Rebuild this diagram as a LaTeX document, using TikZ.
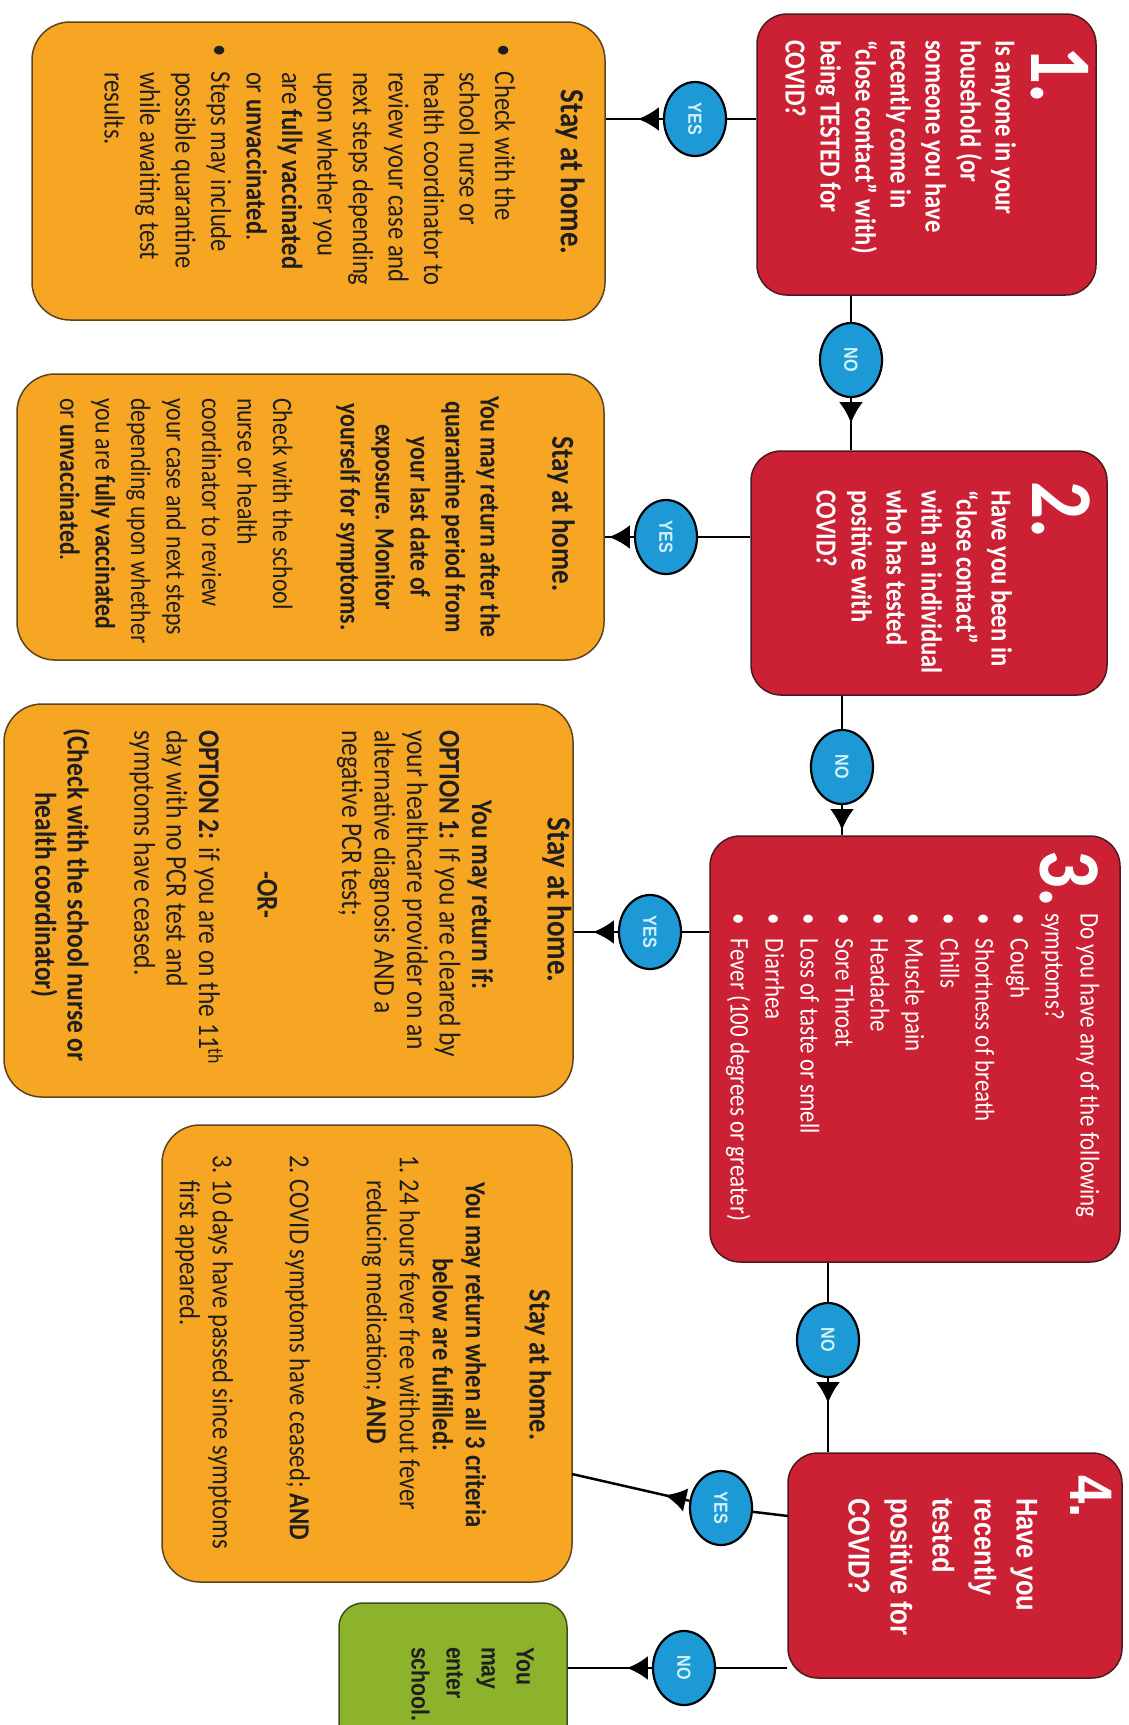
\documentclass[tikz,border=0pt]{standalone}
\usepackage{fontspec}
\usepackage{graphicx}
\usetikzlibrary{shapes.geometric, arrows.meta, decorations.markings}
\setmainfont{Carlito}
\newfontfamily\calfont[FakeStretch=0.85]{Carlito}
\newfontfamily\arifont[FakeStretch=0.85]{Liberation Sans}
\definecolor{cred}{HTML}{CC2135}
\definecolor{credb}{HTML}{4D1A1F}
\definecolor{corange}{HTML}{F6A623}
\definecolor{corb}{HTML}{5C4420}
\definecolor{cgreen}{HTML}{8DB22C}
\definecolor{cgrb}{HTML}{3F4F1A}
\definecolor{cblue}{HTML}{1D9AD6}
\definecolor{ctext}{HTML}{1E1E1E}
\definecolor{cyes}{HTML}{D4F1FC}
\newcommand\blt{\makebox[28pt][l]{•}}
\newcommand\ind{\hspace*{28pt}}
\tikzset{
  box/.style={draw, line width=1.5pt, inner sep=0pt},
  redbox/.style={box, fill=cred, draw=credb, rounded corners=30pt},
  orbox/.style={box, fill=corange, draw=corb, rounded corners=38pt},
  grbox/.style={box, fill=cgreen, draw=cgrb, rounded corners=24pt},
  ans/.style={ellipse, draw=black, line width=2.2pt, fill=cblue, minimum width=62pt, minimum height=74pt, inner sep=0pt, text=cyes, font=\arifont\bfseries\fontsize{19}{19}\selectfont},
  conn/.style={line width=2.5pt, black},
  toarrow/.style={conn, decoration={markings, mark=at position 25pt with {\arrow{Latex[length=21pt,width=24pt]}}}, postaction=decorate},
  rt/.style={rotate=-90, inner sep=0pt, outer sep=0pt},
  wtxt/.style={rt, text=white},
  dtxt/.style={rt, text=ctext},
}
\begin{document}
\begin{tikzpicture}[x=1pt, y=-1pt]
\useasboundingbox (0,0) rectangle (1129,1725);
\fill[white] (0,0) rectangle (1129,1725);
\clip (0,0) rectangle (1129,1725);

% boxes
\node[redbox, minimum width=339pt, minimum height=281pt] (r1) at (926.5,154.5) {};
\node[redbox, minimum width=356pt, minimum height=244pt] (r2) at (929,573) {};
\node[redbox, minimum width=410pt, minimum height=426pt] (r3) at (915,1049) {};
\node[redbox, minimum width=334pt, minimum height=225pt] (r4) at (955,1565.5) {};
\node[orbox, minimum width=573pt, minimum height=298pt] (o1) at (318.5,171) {};
\node[orbox, minimum width=587pt, minimum height=286pt] (o2) at (310.5,517) {};
\node[orbox, minimum width=569pt, minimum height=393pt] (o3) at (288.5,900.5) {};
\node[orbox, minimum width=410pt, minimum height=457pt] (o4) at (367,1353.5) {};
\node[grbox, minimum width=228pt, minimum height=157pt] (g) at (453,1681.5) {};

% answer circle positions
\coordinate (y1) at (695,119);
\coordinate (n1) at (851,360);
\coordinate (y2) at (666,537);
\coordinate (n2) at (842,767);
\coordinate (y3) at (650,932);
\coordinate (n3) at (828,1340);
\coordinate (y4) at (721,1508);
\coordinate (n4) at (684,1668);
\coordinate (y4a) at (788,1516);
\coordinate (y4b) at (572,1474);

% answer circles
\node[ans] (cy1) at (y1) {\rotatebox{-90}{YES}};
\node[ans] (cn1) at (n1) {\rotatebox{-90}{NO}};
\node[ans] (cy2) at (y2) {\rotatebox{-90}{YES}};
\node[ans] (cn2) at (n2) {\rotatebox{-90}{NO}};
\node[ans] (cy3) at (y3) {\rotatebox{-90}{YES}};
\node[ans] (cn3) at (n3) {\rotatebox{-90}{NO}};
\node[ans] (cy4) at (y4) {\rotatebox{-90}{YES}};
\node[ans] (cn4) at (n4) {\rotatebox{-90}{NO}};

% connectors
\draw[conn] (r1.west |- cy1) -- (cy1);
\draw[toarrow] (cy1) -- (cy1 -| o1.east);
\draw[conn] (r1.south -| cn1) -- (cn1);
\draw[toarrow] (cn1) -- (cn1 |- r2.north);
\draw[conn] (r2.west |- cy2) -- (cy2);
\draw[toarrow] (cy2) -- (cy2 -| o2.east);
\draw[conn] (r2.south -| cn2) -- (cn2);
\draw[toarrow] (cn2) -- (cn2 |- r3.north);
\draw[conn] (r3.west |- cy3) -- (cy3);
\draw[toarrow] (cy3) -- (cy3 -| o3.east);
\draw[conn] (r3.south -| cn3) -- (cn3);
\draw[toarrow] (cn3) -- (cn3 |- r4.north);
\draw[conn] (y4a) -- (cy4);
\draw[toarrow] (cy4) -- (y4b);
\draw[conn] (r4.west |- cn4) -- (cn4);
\draw[toarrow] (cn4) -- (cn4 -| g.east);

% red box texts
\node[wtxt, anchor=base west, font=\calfont\bfseries\fontsize{88}{88}\selectfont] (q1num) at (1031,46) {1.};
\node[wtxt, anchor=north west, align=left, font=\calfont\bfseries\fontsize{29}{35}\selectfont] (q1) at (1020,40)
 {\strut Is anyone in your\\household (or\\someone you have\\recently come in\\“close contact” with)\\being TESTED for\\COVID?};

\node[wtxt, anchor=base west, font=\calfont\bfseries\fontsize{88}{88}\selectfont] (q2num) at (1032,481) {2.};
\node[wtxt, anchor=north west, align=left, font=\calfont\bfseries\fontsize{29}{35}\selectfont] (q2) at (1016,490)
 {\strut Have you been in\\“close contact”\\with an individual\\who has tested\\positive with\\COVID?};

\node[wtxt, anchor=base west, font=\calfont\bfseries\fontsize{88}{88}\selectfont] (q3num) at (1040,850) {3.};
\node[wtxt, anchor=north west, align=left, font=\calfont\fontsize{27}{35}\selectfont] (q3) at (1105,913)
 {\strut Do you have any of the following\\symptoms?\\\makebox[26pt][l]{•}Cough\\\makebox[26pt][l]{•}Shortness of breath\\\makebox[26pt][l]{•}Chills\\\makebox[26pt][l]{•}Muscle pain\\\makebox[26pt][l]{•}Headache\\\makebox[26pt][l]{•}Sore Throat\\\makebox[26pt][l]{•}Loss of taste or smell\\\makebox[26pt][l]{•}Diarrhea\\\makebox[26pt][l]{•}Fever (100 degrees or greater)};

\node[wtxt, anchor=base west, font=\arifont\bfseries\fontsize{60}{60}\selectfont] (q4num) at (1070,1475) {4.};
\node[wtxt, anchor=north west, align=left, font=\arifont\bfseries\fontsize{30}{42}\selectfont] (q4) at (1046,1498)
 {\strut Have you\\recently\\tested\\positive for\\COVID?};

% green box text
\node[dtxt, anchor=north west, align=left, font=\arifont\bfseries\fontsize{25}{35}\selectfont] (gtxt) at (541,1647)
 {\strut You\\may\\enter\\school.};

% orange box 1
\node[dtxt, font=\calfont\bfseries\fontsize{34}{34}\selectfont] (a1title) at (570,172) {Stay at home.};
\node[dtxt, anchor=north west, align=left, font=\calfont\fontsize{29}{35.5}\selectfont] (a1) at (520,44)
 {\strut\blt Check with the\\\ind school nurse or\\\ind health coordinator to\\\ind review your case and\\\ind next steps depending\\\ind upon whether you\\\ind are \textbf{fully vaccinated}\\\ind or \textbf{unvaccinated}.\\\blt Steps may include\\\ind possible quarantine\\\ind while awaiting test\\\ind results.};

% orange box 2
\node[dtxt, font=\calfont\bfseries\fontsize{32}{32}\selectfont] (a2title) at (561,514) {Stay at home.};
\node[dtxt, anchor=north, align=center, font=\calfont\bfseries\fontsize{28}{35}\selectfont] (a2a) at (505,517)
 {\strut You may return after the\\quarantine period from\\your last date of\\exposure. Monitor\\yourself for symptoms.};
\node[dtxt, anchor=north west, align=left, font=\calfont\fontsize{28}{35.5}\selectfont] (a2b) at (298,398)
 {\strut Check with the school\\nurse or health\\coordinator to review\\your case and next steps\\depending upon whether\\you are \textbf{fully vaccinated}\\or \textbf{unvaccinated}.};

% orange box 3
\node[dtxt, font=\calfont\bfseries\fontsize{34}{34}\selectfont] (a3title) at (557,900) {Stay at home.};
\node[dtxt, anchor=north west, align=left, font=\calfont\fontsize{30}{32.5}\selectfont] (a3) at (495,730)
 {\strut\makebox[330pt][c]{\bfseries You may return if:}\\
  \textbf{OPTION 1:} If you are cleared by\\
  your healthcare provider on an\\
  alternative diagnosis AND a\\
  negative PCR test;\\[52pt]
  \makebox[330pt][c]{\bfseries -OR-}\\[26pt]
  \textbf{OPTION 2:} if you are on the 11\textsuperscript{th}\\
  day with no PCR test and\\
  symptoms have ceased.\\[34pt]
  \makebox[330pt][c]{\bfseries (Check with the school nurse or}\\
  \makebox[330pt][c]{\bfseries health coordinator)}};

% orange box 4
\node[dtxt, font=\calfont\bfseries\fontsize{31}{31}\selectfont] (a4title) at (538,1365) {Stay at home.};
\node[dtxt, anchor=north west, align=left, font=\calfont\fontsize{29}{33}\selectfont] (a4) at (489,1155)
 {\strut\makebox[400pt][c]{\bfseries You may return when all 3 criteria}\\
  \makebox[400pt][c]{\bfseries below are fulfilled:}\\
  \makebox[25pt][l]{1.}24 hours fever free without fever\\
  \hspace*{25pt}reducing medication; \textbf{AND}\\[44pt]
  \makebox[25pt][l]{2.}COVID symptoms have ceased; \textbf{AND}\\[44pt]
  \makebox[25pt][l]{3.}10 days have passed since symptoms\\
  \hspace*{25pt}first appeared.};
\end{tikzpicture}
\end{document}
